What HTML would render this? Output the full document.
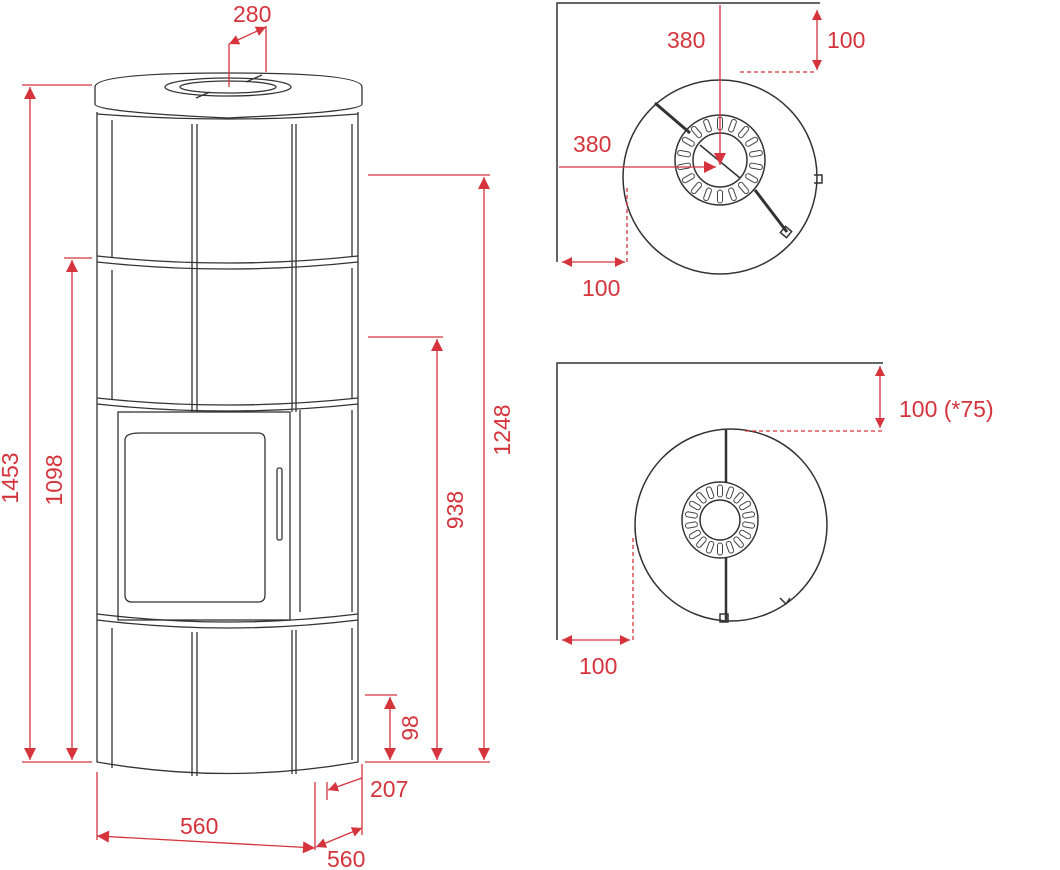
<!DOCTYPE html>
<html><head><style>
html,body{margin:0;padding:0;background:#fff;}
svg{display:block;}
text{font-family:"Liberation Sans",sans-serif;font-size:23px;fill:#d5343c;}
</style></head><body>
<svg width="1060" height="870" viewBox="0 0 1060 870" xmlns="http://www.w3.org/2000/svg">
<defs>
<marker id="a" viewBox="0 0 10 10" refX="10" refY="5" markerWidth="14" markerHeight="10" orient="auto-start-reverse" markerUnits="userSpaceOnUse"><path d="M0,0 L10,5 L0,10 z" fill="#d5343c"/></marker>
<marker id="b" viewBox="0 0 10 10" refX="10" refY="5" markerWidth="18" markerHeight="12" orient="auto-start-reverse" markerUnits="userSpaceOnUse"><path d="M0,0 L10,5 L0,10 z" fill="#d5343c"/></marker>
</defs>
<!-- stove -->
<g fill="none" stroke="#333" stroke-width="1.3">
<path d="M95,87 Q95,73 228,73 Q362,73 362,87 L362,104 Q362,112 228,118 Q95,112 95,104 Z" fill="#fff"/>
<ellipse cx="228" cy="87" rx="63" ry="9"/>
<ellipse cx="228" cy="87" rx="48" ry="6"/>
<path d="M196,98 L210,92 M246,82 L262,75"/>
<path d="M97,114 Q228,124 358,114"/>
<path d="M97,112 L97,762 Q228,785 358,762 L358,112"/>
<path d="M112,120 L112,258 M192,124 L192,412 M197,124 L197,412 M292,124 L292,412 M296,124 L296,412"/>
<path d="M97,256 Q228,270 358,256 M97,262 Q228,276 358,262"/>
<path d="M97,398 Q228,412 358,398 M97,404 Q228,418 358,404"/>
<path d="M112,270 L112,400"/>
<rect x="118" y="412" width="172" height="208"/>
<path d="M125,440 Q125,433 140,433 L258,433 Q265,433 265,440 L265,595 Q265,602 258,602 L132,602 Q125,602 125,595 Z"/>
<rect x="277" y="468" width="5" height="72" rx="2"/>
<path d="M97,614 Q228,630 358,614 M97,620 Q228,636 358,620"/>
<path d="M112,628 L112,768 M192,632 L192,776 M197,632 L197,776 M292,630 L292,774 M296,630 L296,774"/>
<path d="M300,410 L300,612 M352,410 L352,612 M352,268 L352,398 M352,124 L352,256 M352,628 L352,760"/>
</g>
<!-- dims left -->
<g stroke="#d5343c" stroke-width="1.3" fill="none">
<path d="M22,85 L92,85 M22,762 L92,762"/>
<line x1="30" y1="87" x2="30" y2="760" marker-start="url(#b)" marker-end="url(#b)"/>
<path d="M64,258 L92,258"/>
<line x1="72" y1="260" x2="72" y2="760" marker-start="url(#b)" marker-end="url(#b)"/>
<path d="M368,175 L490,175 M368,337 L443,337 M365,695 L397,695 M365,762 L490,762"/>
<line x1="484" y1="177" x2="484" y2="760" marker-start="url(#b)" marker-end="url(#b)"/>
<line x1="437" y1="339" x2="437" y2="760" marker-start="url(#b)" marker-end="url(#b)"/>
<line x1="390" y1="697" x2="390" y2="760" marker-start="url(#b)" marker-end="url(#b)"/>
<path d="M229,87 L229,44 M266,72 L266,26"/>
<line x1="229" y1="44" x2="266" y2="27" marker-start="url(#a)" marker-end="url(#a)"/>
<path d="M97,772 L97,840 M315,782 L315,850 M362,764 L362,835 M327,782 L327,800"/>
<line x1="97" y1="836" x2="315" y2="848" marker-start="url(#b)" marker-end="url(#b)"/>
<line x1="316" y1="847" x2="362" y2="828" marker-start="url(#a)" marker-end="url(#a)"/>
<line x1="328" y1="790" x2="362" y2="778" marker-start="url(#a)"/>
</g>
<text x="233" y="22">280</text>
<text transform="translate(18,478) rotate(-90)" text-anchor="middle">1453</text>
<text transform="translate(62,480) rotate(-90)" text-anchor="middle">1098</text>
<text transform="translate(510,430) rotate(-90)" text-anchor="middle">1248</text>
<text transform="translate(463,510) rotate(-90)" text-anchor="middle">938</text>
<text transform="translate(418,728) rotate(-90)" text-anchor="middle">98</text>
<text x="370" y="797">207</text>
<text x="180" y="834">560</text>
<text x="327" y="867">560</text>
<!-- top plan -->
<g fill="none" stroke="#333" stroke-width="1.5">
<path d="M557,262 L557,3 L820,3"/>
<circle cx="720" cy="177" r="97"/>
<circle cx="720" cy="160" r="45"/>
<circle cx="720" cy="160" r="27"/>
<path d="M655,103 L690,133 M755,190 L787,232" stroke-width="3"/>
<path d="M700,145 L740,178"/>
<rect x="782" y="228" width="8" height="8" transform="rotate(40 786 232)"/>
<path d="M814,175 L822,175 L822,183 L814,183"/>
</g>
<g fill="none" stroke="#444" stroke-width="1">
<g transform="translate(720,160)">
<rect x="-2.5" y="-43" width="5" height="13" rx="2.5"/>
<rect x="-2.5" y="-43" width="5" height="13" rx="2.5" transform="rotate(20)"/>
<rect x="-2.5" y="-43" width="5" height="13" rx="2.5" transform="rotate(40)"/>
<rect x="-2.5" y="-43" width="5" height="13" rx="2.5" transform="rotate(60)"/>
<rect x="-2.5" y="-43" width="5" height="13" rx="2.5" transform="rotate(80)"/>
<rect x="-2.5" y="-43" width="5" height="13" rx="2.5" transform="rotate(100)"/>
<rect x="-2.5" y="-43" width="5" height="13" rx="2.5" transform="rotate(120)"/>
<rect x="-2.5" y="-43" width="5" height="13" rx="2.5" transform="rotate(140)"/>
<rect x="-2.5" y="-43" width="5" height="13" rx="2.5" transform="rotate(160)"/>
<rect x="-2.5" y="-43" width="5" height="13" rx="2.5" transform="rotate(180)"/>
<rect x="-2.5" y="-43" width="5" height="13" rx="2.5" transform="rotate(200)"/>
<rect x="-2.5" y="-43" width="5" height="13" rx="2.5" transform="rotate(220)"/>
<rect x="-2.5" y="-43" width="5" height="13" rx="2.5" transform="rotate(240)"/>
<rect x="-2.5" y="-43" width="5" height="13" rx="2.5" transform="rotate(260)"/>
<rect x="-2.5" y="-43" width="5" height="13" rx="2.5" transform="rotate(280)"/>
<rect x="-2.5" y="-43" width="5" height="13" rx="2.5" transform="rotate(300)"/>
<rect x="-2.5" y="-43" width="5" height="13" rx="2.5" transform="rotate(320)"/>
<rect x="-2.5" y="-43" width="5" height="13" rx="2.5" transform="rotate(340)"/>
</g>
<g transform="translate(720,520)">
<rect x="-2.5" y="-35" width="5" height="12" rx="2.5"/>
<rect x="-2.5" y="-35" width="5" height="12" rx="2.5" transform="rotate(20)"/>
<rect x="-2.5" y="-35" width="5" height="12" rx="2.5" transform="rotate(40)"/>
<rect x="-2.5" y="-35" width="5" height="12" rx="2.5" transform="rotate(60)"/>
<rect x="-2.5" y="-35" width="5" height="12" rx="2.5" transform="rotate(80)"/>
<rect x="-2.5" y="-35" width="5" height="12" rx="2.5" transform="rotate(100)"/>
<rect x="-2.5" y="-35" width="5" height="12" rx="2.5" transform="rotate(120)"/>
<rect x="-2.5" y="-35" width="5" height="12" rx="2.5" transform="rotate(140)"/>
<rect x="-2.5" y="-35" width="5" height="12" rx="2.5" transform="rotate(160)"/>
<rect x="-2.5" y="-35" width="5" height="12" rx="2.5" transform="rotate(180)"/>
<rect x="-2.5" y="-35" width="5" height="12" rx="2.5" transform="rotate(200)"/>
<rect x="-2.5" y="-35" width="5" height="12" rx="2.5" transform="rotate(220)"/>
<rect x="-2.5" y="-35" width="5" height="12" rx="2.5" transform="rotate(240)"/>
<rect x="-2.5" y="-35" width="5" height="12" rx="2.5" transform="rotate(260)"/>
<rect x="-2.5" y="-35" width="5" height="12" rx="2.5" transform="rotate(280)"/>
<rect x="-2.5" y="-35" width="5" height="12" rx="2.5" transform="rotate(300)"/>
<rect x="-2.5" y="-35" width="5" height="12" rx="2.5" transform="rotate(320)"/>
<rect x="-2.5" y="-35" width="5" height="12" rx="2.5" transform="rotate(340)"/>
</g>
</g>
<g stroke="#d5343c" stroke-width="1.3" fill="none">
<line x1="720" y1="5" x2="720" y2="165" marker-end="url(#b)"/>
<line x1="559" y1="167" x2="716" y2="167" marker-end="url(#b)"/>
<line x1="817" y1="10" x2="817" y2="70" marker-start="url(#a)" marker-end="url(#a)"/>
<path d="M740,72 L817,72 M627,188 L627,262" stroke-dasharray="4 3"/>
<line x1="562" y1="262" x2="625" y2="262" marker-start="url(#a)" marker-end="url(#a)"/>
</g>
<text x="667" y="48">380</text>
<text x="573" y="152">380</text>
<text x="827" y="48">100</text>
<text x="582" y="296">100</text>
<!-- bottom plan -->
<g fill="none" stroke="#333" stroke-width="1.5">
<path d="M557,640 L557,363 L883,363"/>
<circle cx="731" cy="525" r="96"/>
<circle cx="720" cy="520" r="38"/>
<circle cx="720" cy="520" r="20"/>
<path d="M726,430 L726,482 M726,558 L726,620" stroke-width="2.5"/>
<rect x="720" y="614" width="8" height="8"/>
<path d="M780,598 L786,604 L790,598"/>
</g>
<g stroke="#d5343c" stroke-width="1.3" fill="none">
<path d="M745,431 L883,431 M633,538 L633,640" stroke-dasharray="4 3"/>
<line x1="880" y1="366" x2="880" y2="428" marker-start="url(#a)" marker-end="url(#a)"/>
<line x1="562" y1="640" x2="630" y2="640" marker-start="url(#a)" marker-end="url(#a)"/>
</g>
<text x="899" y="417">100 (*75)</text>
<text x="579" y="674">100</text>
</svg>
</body></html>
